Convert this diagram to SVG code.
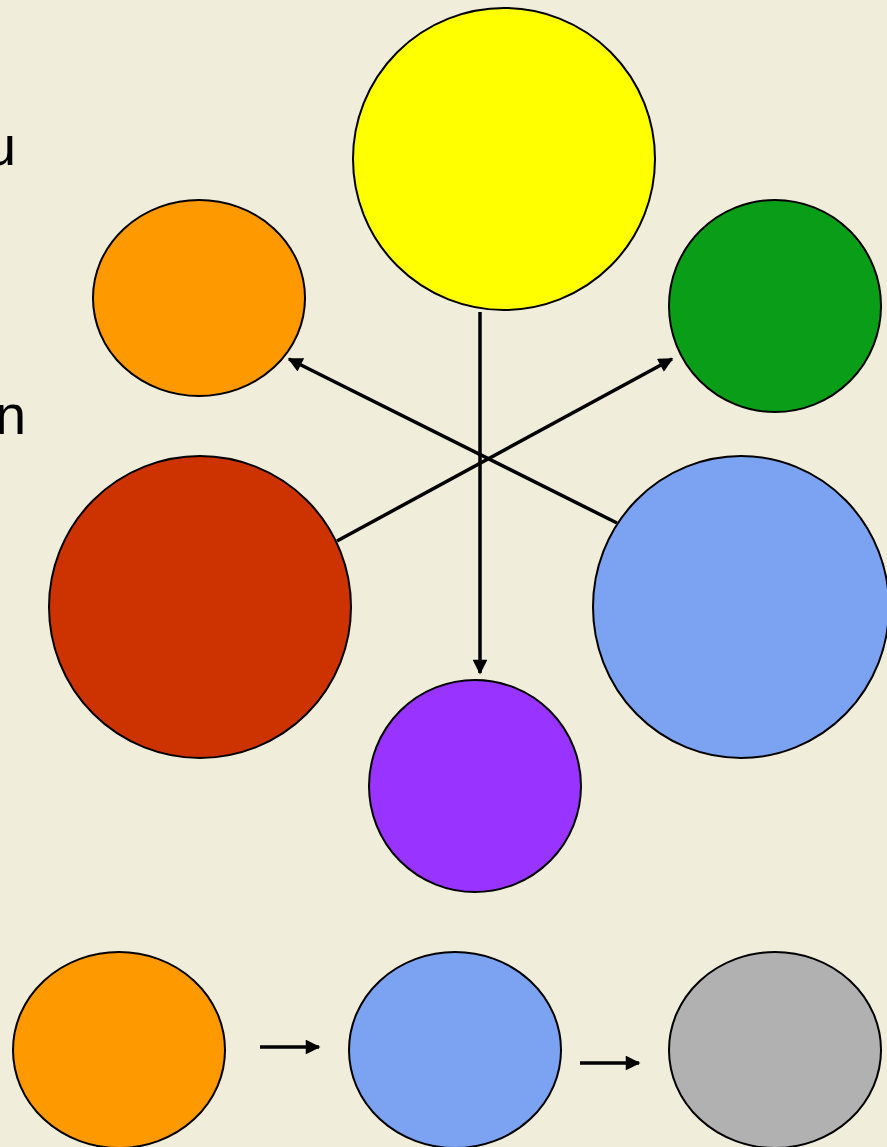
<svg xmlns="http://www.w3.org/2000/svg" width="887" height="1147" viewBox="0 0 887 1147">
<style>
.c{stroke:#000;stroke-width:2}
.a{stroke:#000;stroke-width:3.5;fill:none}
.t{font-family:"Liberation Sans",Arial,sans-serif;font-size:56px;fill:#000}
</style>
<defs>
<marker id="ah" viewBox="0 0 10 10" refX="9" refY="5" markerWidth="4.6" markerHeight="4.2" orient="auto" markerUnits="strokeWidth">
<path d="M0,0 L10,5 L0,10 Z" fill="#000"/>
</marker>
</defs>
<rect width="887" height="1147" fill="#F0EDDB"/>
<text class="t" x="-15" y="165">u</text>
<text class="t" x="-5" y="434">n</text>
<g id="yellow"><ellipse class="c" cx="504" cy="159" rx="151" ry="151" fill="#FFFF00"/></g>
<g id="orange"><ellipse class="c" cx="199" cy="298" rx="106" ry="98" fill="#FF9900"/></g>
<g id="green"><ellipse class="c" cx="775" cy="306" rx="106" ry="106" fill="#0A9E18"/></g>
<g id="red"><ellipse class="c" cx="200" cy="607" rx="151" ry="151" fill="#CC3300"/></g>
<g id="blue"><ellipse class="c" cx="741" cy="607" rx="148" ry="151" fill="#7BA3F2"/></g>
<g id="purple"><ellipse class="c" cx="475" cy="786" rx="106" ry="106" fill="#9933FF"/></g>
<g id="orange2"><ellipse class="c" cx="119" cy="1050" rx="106" ry="98" fill="#FF9900"/></g>
<g id="blue2"><ellipse class="c" cx="455" cy="1050" rx="106" ry="98" fill="#7BA3F2"/></g>
<g id="gray"><ellipse class="c" cx="775" cy="1050" rx="106" ry="98" fill="#B2B1B1"/></g>
<g id="connectors">
<line class="a" x1="480" y1="312" x2="480" y2="673" marker-end="url(#ah)"/>
<line class="a" x1="617" y1="523" x2="289" y2="359" marker-end="url(#ah)"/>
<line class="a" x1="337" y1="541" x2="672" y2="359" marker-end="url(#ah)"/>
<line class="a" x1="260" y1="1047" x2="319" y2="1047" marker-end="url(#ah)"/>
<line class="a" x1="580" y1="1063" x2="639" y2="1063" marker-end="url(#ah)"/>
</g>
</svg>
